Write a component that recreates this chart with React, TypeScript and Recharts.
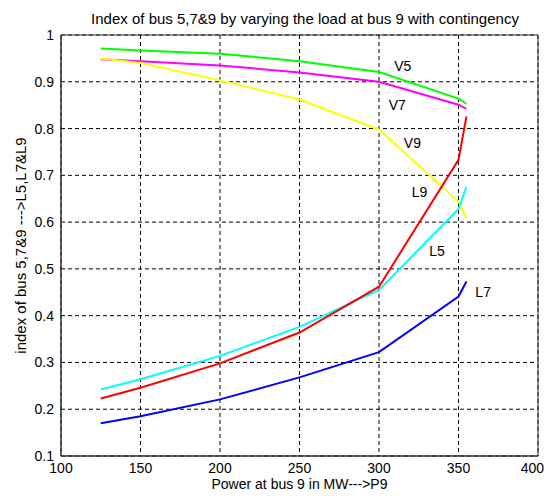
import React from 'react';
import { LineChart, Line, XAxis, YAxis, CartesianGrid, ReferenceArea, ReferenceDot } from 'recharts';

const powerP9 = [125, 150, 200, 250, 300, 350, 355];
const V5 = [0.971, 0.967, 0.960, 0.944, 0.921, 0.864, 0.853];
const V7 = [0.948, 0.944, 0.935, 0.920, 0.900, 0.851, 0.842];
const V9 = [0.950, 0.940, 0.903, 0.862, 0.798, 0.644, 0.609];
const L5 = [0.242, 0.264, 0.314, 0.376, 0.455, 0.628, 0.675];
const L7 = [0.170, 0.185, 0.221, 0.268, 0.322, 0.441, 0.473];
const L9 = [0.223, 0.246, 0.298, 0.364, 0.462, 0.733, 0.826];

const xTicks = [100, 150, 200, 250, 300, 350, 400];
const yTicks = [0.1, 0.2, 0.3, 0.4, 0.5, 0.6, 0.7, 0.8, 0.9, 1];

const seriesNames = ['V5', 'V7', 'V9', 'L5', 'L7', 'L9'];
const seriesColors = ['#00ff00', '#ff00ff', '#ffff00', '#00ffff', '#0000ff', '#ff0000'];
const seriesValues = [V5, V7, V9, L5, L7, L9];

const labelNames = ['V5', 'V7', 'V9', 'L9', 'L5', 'L7'];
const labelX = [315, 311.5, 321, 325.5, 336.5, 365.5];
const labelY = [0.934, 0.851, 0.769, 0.664, 0.538, 0.450];

const title = 'Index of bus 5,7&9 by varying the load at bus 9 with contingency';
const xTitle = 'Power at bus 9 in MW--->P9';
const yTitle = 'index of bus 5,7&9 --->L5,L7&L9';

const data = powerP9.map((p, i) => {
  const row: Record<string, number> = { p };
  seriesNames.forEach((n, k) => {
    row[n] = seriesValues[k][i];
  });
  return row;
});

const FONT = '"Liberation Sans", Arial, sans-serif';
const tickStyle = { fontSize: 14, fill: '#000', fontFamily: FONT };
const titleStyle = { fontSize: 15, fill: '#000', fontFamily: FONT };
const xTitleStyle = { fontSize: 14, fill: '#000', fontFamily: FONT };

const XTick = (props: any) => {
  const { x, y, payload } = props;
  const last = payload.value === xTicks[xTicks.length - 1];
  return (
    <text
      x={last ? x + 6 : x}
      y={y}
      dy="0.71em"
      textAnchor={last ? 'end' : 'middle'}
      style={tickStyle}
    >
      {payload.value}
    </text>
  );
};

export default function App() {
  return (
    <div style={{ position: 'relative', width: 536, height: 484, background: '#fff', fontFamily: FONT }}>
      <div
        style={{
          position: 'absolute',
          top: 3,
          left: 297,
          transform: 'translateX(-50%)',
          whiteSpace: 'nowrap',
          fontSize: 15,
          lineHeight: '15px',
          color: '#000',
          fontFamily: FONT,
          zIndex: 1,
        }}
      >
        {title}
      </div>
      <LineChart width={536} height={484} data={data} margin={{ top: 27, right: 6, left: 0, bottom: 0 }}>
        <CartesianGrid stroke="#000" strokeDasharray="4 3" strokeWidth={1} />
        <XAxis
          dataKey="p"
          type="number"
          domain={[100, 400]}
          ticks={xTicks}
          interval={0}
          height={36}
          tickLine={false}
          tickSize={0}
          tickMargin={7}
          axisLine={{ stroke: '#333' }}
          tick={<XTick />}
          label={{ value: xTitle, position: 'insideBottom', offset: 3, style: xTitleStyle }}
        />
        <YAxis
          type="number"
          domain={[0.1, 1]}
          ticks={yTicks}
          interval={0}
          width={53}
          tickLine={false}
          tickSize={0}
          tickMargin={7}
          axisLine={{ stroke: '#333' }}
          tick={tickStyle}
          tickFormatter={(v: number) => (v === 1 ? '1' : v.toFixed(1))}
          label={{ value: yTitle, angle: -90, position: 'center', dx: -14, style: titleStyle }}
        />
        <ReferenceArea x1={100} x2={400} y1={0.1} y2={1} fill="none" stroke="#333" strokeWidth={1} />
        {seriesNames.map((n, k) => (
          <Line
            key={n}
            type="linear"
            dataKey={n}
            stroke={seriesColors[k]}
            strokeWidth={2}
            dot={false}
            isAnimationActive={false}
          />
        ))}
        {labelNames.map((n, k) => (
          <ReferenceDot
            key={'lab' + n}
            x={labelX[k]}
            y={labelY[k]}
            r={0}
            fill="none"
            stroke="none"
            label={{ value: n, position: 'center', style: { fontSize: 14, fill: '#000', fontFamily: FONT } }}
          />
        ))}
      </LineChart>
    </div>
  );
}
